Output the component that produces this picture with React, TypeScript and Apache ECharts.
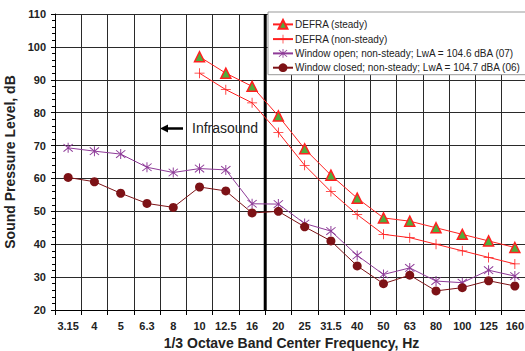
import React, { useEffect, useRef } from "react";
import * as echarts from "echarts";

// 1/3 octave band centre frequencies, Hz
const bands = ["3.15", "4", "5", "6.3", "8", "10", "12.5", "16", "20", "25", "31.5", "40", "50", "63", "80", "100", "125", "160"];

// DEFRA criteria curves start at 10 Hz
const defraSteady = [null, null, null, null, null, 97, 92, 88, 79, 69, 61, 54, 48, 47, 45, 43, 41, 39];
const defraNonSteady = [null, null, null, null, null, 92, 87, 83, 74, 64, 56, 49, 43, 42, 40, 38, 36, 34];

// Measured levels, dB
const windowOpen = [69.3, 68.3, 67.4, 63.4, 61.8, 63, 62.6, 52.3, 52.2, 46.3, 44, 36.6, 30.8, 32.8, 28.8, 28.3, 32.1, 30.3];
const windowClosed = [60.3, 59, 55.5, 52.4, 51.2, 57.4, 56.2, 49.5, 50, 45.3, 41, 33.4, 28, 30.6, 25.8, 26.8, 28.9, 27.3];

const seriesNames = [
  "DEFRA (steady)",
  "DEFRA (non-steady)",
  "Window open; non-steady; LwA = 104.6 dBA (07)",
  "Window closed; non-steady; LwA = 104.7 dBA (06)",
];

// Upper limit of infrasound: the boundary after the 16 Hz band (8 bands from the left edge)
const infrasoundEdge = 8;
const levelRange = [20, 110];

const plusSymbol = "path://M4.6,0h0.8v4.6h4.6v0.8h-4.6v4.6h-0.8v-4.6h-4.6v-0.8h4.6z";
const starSymbol =
  "path://M4.6,0h0.8v10h-0.8z M0.9,1.5L1.5,0.9L9.1,8.5L8.5,9.1Z M8.5,0.9L9.1,1.5L1.5,9.1L0.9,8.5Z";

const FONT = "Liberation Sans, Arial, sans-serif";

export default function App() {
  const ref = useRef<HTMLDivElement>(null);

  useEffect(() => {
    if (!ref.current) return;
    const chart = echarts.init(ref.current, null, { renderer: "svg" });
    const red = "#ff2020";
    const purple = "#8e3b98";
    const maroon = "#7d1216";

    chart.setOption({
      animation: false,
      backgroundColor: "#ffffff",
      textStyle: { fontFamily: FONT },
      grid: { left: 55, top: 14, width: 473, height: 296, outerBoundsMode: "none", containLabel: false },
      legend: {
        orient: "vertical",
        left: 268,
        top: 12,
        width: 300,
        backgroundColor: "#ffffff",
        borderColor: "#999999",
        borderWidth: 1,
        borderRadius: 0,
        padding: [7, 40, 2, 4],
        itemGap: 4.3,
        itemWidth: 20,
        itemHeight: 11,
        textStyle: { fontFamily: FONT, fontSize: 10, color: "#222222", padding: [0, 0, 0, -3] },
        data: seriesNames,
      },
      xAxis: [
        {
          type: "category",
          data: bands,
          boundaryGap: true,
          name: "1/3 Octave Band Center Frequency, Hz",
          nameLocation: "middle",
          nameGap: 25,
          nameTextStyle: { fontFamily: FONT, fontSize: 14, fontWeight: "bold", color: "#222222" },
          axisLine: { lineStyle: { color: "#000000", width: 1 } },
          axisTick: { show: true, length: 5, interval: 0, lineStyle: { color: "#000000" } },
          axisLabel: { interval: 0, margin: 10, fontFamily: FONT, fontSize: 11, fontWeight: "bold", color: "#222222" },
          splitLine: { show: true, interval: 0, lineStyle: { color: "#2a2a2a", width: 1 } },
        },
        {
          // band-edge scale used to place the infrasound boundary
          type: "value",
          min: 0,
          max: bands.length,
          show: false,
          splitLine: { show: false },
        },
      ],
      yAxis: {
        type: "value",
        min: levelRange[0],
        max: levelRange[1],
        interval: 10,
        name: "Sound Pressure Level, dB",
        nameLocation: "middle",
        nameGap: 29,
        nameTextStyle: { fontFamily: FONT, fontSize: 14, fontWeight: "bold", color: "#222222" },
        axisLine: { show: true, lineStyle: { color: "#000000", width: 1 } },
        axisTick: { show: true, length: 4, lineStyle: { color: "#000000" } },
        minorTick: { show: true, splitNumber: 5, length: 3, lineStyle: { color: "#000000" } },
        axisLabel: { margin: 9, fontFamily: FONT, fontSize: 11, fontWeight: "bold", color: "#222222" },
        splitLine: { show: true, lineStyle: { color: "#2a2a2a", width: 1 } },
      },
      series: [
        {
          name: "infrasound-limit",
          type: "line",
          xAxisIndex: 1,
          data: [
            [infrasoundEdge, levelRange[0]],
            [infrasoundEdge, levelRange[1]],
          ],
          symbol: "none",
          silent: true,
          lineStyle: { color: "#000000", width: 3 },
          z: 2,
        },
        {
          name: seriesNames[0],
          type: "line",
          data: defraSteady,
          symbol: "triangle",
          symbolSize: 10,
          lineStyle: { color: red, width: 1 },
          itemStyle: { color: "#4fae3c", borderColor: red, borderWidth: 1.5 },
          z: 4,
        },
        {
          name: seriesNames[1],
          type: "line",
          data: defraNonSteady,
          symbol: plusSymbol,
          symbolSize: 10,
          lineStyle: { color: red, width: 1 },
          itemStyle: { color: red },
          z: 3,
        },
        {
          name: seriesNames[2],
          type: "line",
          data: windowOpen,
          symbol: starSymbol,
          symbolSize: 10,
          lineStyle: { color: purple, width: 1 },
          itemStyle: { color: purple },
          z: 3,
        },
        {
          name: seriesNames[3],
          type: "line",
          data: windowClosed,
          symbol: "circle",
          symbolSize: 9,
          lineStyle: { color: maroon, width: 1 },
          itemStyle: { color: maroon },
          z: 3,
        },
      ],
      graphic: [
        {
          type: "group",
          left: 160,
          top: 120,
          children: [
            { type: "rect", shape: { x: 28, y: 0, width: 72, height: 17 }, style: { fill: "#ffffff" } },
            { type: "polygon", shape: { points: [[0, 8.5], [8, 4.5], [8, 12.5]] }, style: { fill: "#000000" } },
            { type: "line", shape: { x1: 6, y1: 8.5, x2: 23, y2: 8.5 }, style: { stroke: "#000000", lineWidth: 2.5 } },
            {
              type: "text",
              x: 32,
              y: 1,
              style: { text: "Infrasound", fontFamily: FONT, fontSize: 14, fill: "#222222" },
            },
          ],
        },
      ],
    });

    return () => chart.dispose();
  }, []);

  return <div ref={ref} style={{ width: 525, height: 351, position: "absolute", left: 0, top: 0 }} />;
}
